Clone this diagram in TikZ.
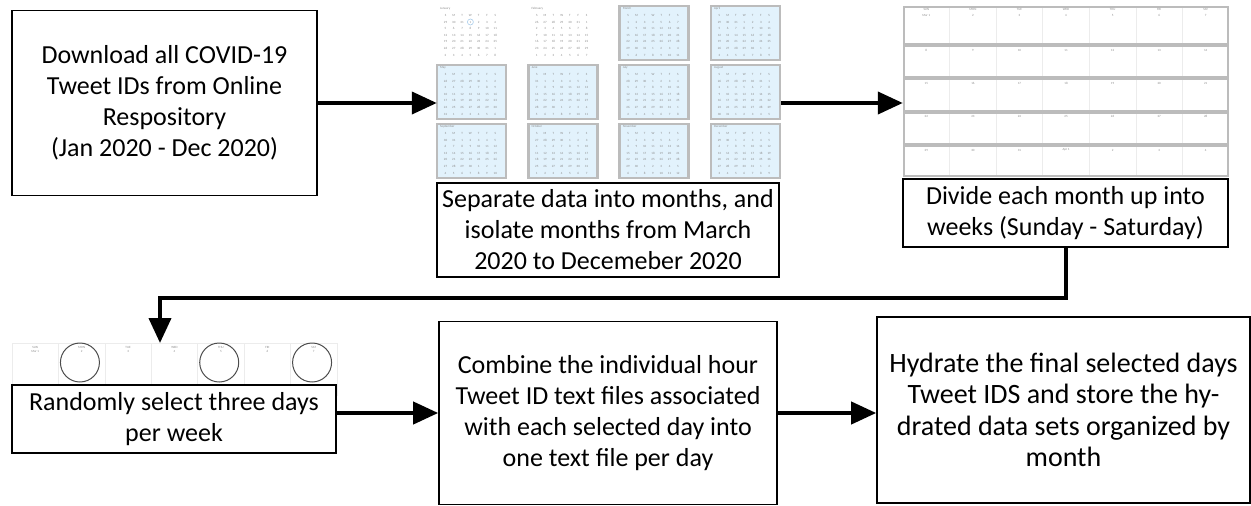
\documentclass[tikz,border=0pt]{standalone}
\usepackage{fontspec}
\setmainfont{Carlito}
\usetikzlibrary{arrows.meta}
\definecolor{calblue}{HTML}{E2F2FC}
\definecolor{calgray}{HTML}{BCBCBC}
\definecolor{numgray}{HTML}{8A8A8A}
\definecolor{linegray}{HTML}{ECECEC}
\definecolor{todayblue}{HTML}{A9CDEB}

\begin{document}
\begin{tikzpicture}[x=1pt,y=-1pt,
    box/.style={draw,line width=1.6pt,fill=white,align=center,inner sep=0pt,
      font=\fontsize{26}{31}\selectfont},
    flow/.style={line width=4pt,-{Triangle[length=25pt,width=22pt]}},
    tiny/.style={font=\fontsize{3.2}{3.2}\selectfont,text=numgray,inner sep=0pt}]
  \useasboundingbox (0,0) rectangle (1251,506);

  % month calendars
  \node[inner sep=0pt,minimum width=344pt,minimum height=172pt] (months) at (609,91.5) {};
  \foreach \name/\off/\days/\prev [count=\i from 0] in {January/3/31/31,February/6/29/31,
      March/0/31/29,April/3/30/31,May/5/31/30,June/1/30/31,July/3/31/30,August/6/31/31,
      September/2/30/31,October/4/31/30,November/0/30/31,December/2/31/30}{
    \pgfmathsetmacro\xa{437+91.3*mod(\i,4)}
    \pgfmathsetmacro\ya{6+59*int(\i/4)}
    \ifnum\i>1
      \filldraw[fill=calblue,draw=calgray,line width=2.5pt] (\xa,\ya) rectangle ++(69,54);
    \fi
    \node[tiny,anchor=north west] at (\xa+3,\ya+1.5) {\name};
    \foreach \h [count=\c from 0] in {S,M,T,W,T,F,S}
      \node[tiny] at (\xa+8.5+8.3*\c,\ya+9.5) {\h};
    \foreach \k in {0,...,41}{
      \pgfmathtruncatemacro\d{\k<\off ? \prev-\off+\k+1 : (\k-\off<\days ? \k-\off+1 : \k-\off-\days+1)}
      \node[tiny] at ({\xa+8.5+8.3*mod(\k,7)},{\ya+16+6.6*int(\k/7)}) {\d};
    }
  }
  \draw[todayblue,line width=0.6pt] (470.4,22) circle (3pt);

  % week calendar
  \node[inner sep=0pt,minimum width=326pt,minimum height=171pt] (weeks) at (1066,91.5) {};
  \foreach \top/\bot in {6/45,45/78,78/112,112/145,145/177}{
    \foreach \c in {1,...,6}
      \draw[linegray,line width=0.5pt] (903+46.57*\c,\top+2) -- (903+46.57*\c,\bot-2);
    \draw[calgray,line width=2pt] (904,\top+1) rectangle (1228,\bot-1);
  }
  \foreach \h [count=\c from 0] in {SUN,MON,TUE,WED,THU,FRI,SAT}
    \node[tiny] at (926.3+46.57*\c,9.5) {\h};
  \foreach \k in {0,...,34}{
    \pgfmathtruncatemacro\d{\k<31 ? \k+1 : \k-30}
    \pgfmathtruncatemacro\w{int(\k/7)}
    \pgfmathsetmacro\yd{\w==0 ? 15 : 50+33.4*(\w-1)}
    \node[tiny] at ({926.3+46.57*mod(\k,7)},\yd) {\ifnum\k=0 Mar 1\else\ifnum\k=31 Apr 1\else\d\fi\fi};
  }

  % one week, three days picked
  \node[inner sep=0pt,minimum width=325pt,minimum height=52pt] (days) at (174.5,369) {};
  \draw[linegray,line width=0.5pt] (12,343) rectangle (337,395);
  \foreach \c in {1,...,6}
    \draw[linegray,line width=0.5pt] (12+46.43*\c,344) -- (12+46.43*\c,394);
  \foreach \h/\d [count=\c from 0] in {SUN/Mar 1,MON/2,TUE/3,WED/4,THU/5,FRI/6,SAT/7}{
    \node[tiny] at (35.2+46.43*\c,347.5) {\h};
    \node[tiny] at (35.2+46.43*\c,351.5) {\d};
  }
  \foreach \c in {1,4,6}
    \draw[black!70,line width=1pt] (33.5+46.43*\c,362.5) circle (19.5pt);

  \node[box,minimum width=305pt,minimum height=185pt] (download) at (164.5,103)
    {Download all COVID-19\\Tweet IDs from Online\\Respository\\(Jan 2020 - Dec 2020)};
  \node[box,minimum width=342pt,minimum height=94pt] (separate) at (608,230)
    {Separate data into months, and\\isolate months from March\\2020 to Decemeber 2020};
  \node[box,minimum width=325pt,minimum height=68pt] (divide) at (1065.5,213)
    {Divide each month up into\\weeks (Sunday - Saturday)};
  \node[box,minimum width=324pt,minimum height=68pt] (select) at (174,419)
    {Randomly select three days\\per week};
  \node[box,minimum width=338pt,minimum height=183pt] (combine) at (608,413)
    {Combine the individual hour\\Tweet ID text files associated\\with each selected day into\\one text file per day};
  \node[box,minimum width=373pt,minimum height=186pt,font=\fontsize{28}{31.5}\selectfont] (hydrate) at (1063.5,410)
    {Hydrate the final selected days\\Tweet IDS and store the hy-\\drated data sets organized by\\month};

  \coordinate (drop) at (160,343);
  \draw[flow] (download.east) -- (download.east -| months.west);
  \draw[flow] (download.east -| months.east) -- (download.east -| weeks.west);
  \draw[flow] (divide.south) -- ++(0,50) -| (drop);
  \draw[flow] (select.east |- combine.west) -- (combine.west);
  \draw[flow] (combine.east) -- (combine.east -| hydrate.west);
\end{tikzpicture}
\end{document}
